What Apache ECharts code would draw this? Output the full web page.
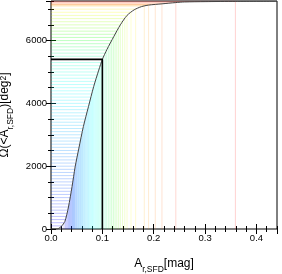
<!DOCTYPE html>
<html>
<head>
<meta charset="utf-8">
<script src="https://cdn.jsdelivr.net/npm/echarts@6/dist/echarts.min.js"></script>
<style>html,body{margin:0;padding:0;background:#fff;overflow:hidden}#c{width:282px;height:274px}</style>
</head>
<body>
<div id="c"></div>
<script>
// cumulative area curve
const curveX = [0, 0.010, 0.015, 0.020, 0.027, 0.034, 0.041, 0.047, 0.054, 0.063, 0.073, 0.083, 0.093, 0.100, 0.109, 0.122, 0.135, 0.148, 0.162, 0.176, 0.190, 0.216, 0.243, 0.260, 0.300, 0.359, 0.440];
const curveY = [0, 0, 20, 80, 240, 700, 1350, 1980, 2550, 3260, 3900, 4530, 5060, 5400, 5720, 6120, 6500, 6800, 6980, 7080, 7130, 7170, 7210, 7230, 7240, 7248, 7252];
// quantile levels (area) and the extinction where each is reached
const levelY = [100,200,300,400,500,600,700,800,900,1000,1100,1200,1300,1400,1500,1600,1700,1800,1900,2000,2100,2200,2300,2400,2500,2600,2700,2800,2900,3000,3100,3200,3300,3400,3500,3600,3700,3800,3900,4000,4100,4200,4300,4400,4500,4600,4700,4800,4900,5000,5100,5200,5300,5400,5500,5600,5700,5800,5900,6000,6100,6200,6300,6400,6500,6600,6700,6800,6900,7000,7100,7130,7150,7170,7210,7248];
const levelX = [0.0209,0.0253,0.0279,0.0294,0.0310,0.0325,0.0340,0.0351,0.0362,0.0372,0.0383,0.0394,0.0405,0.0415,0.0424,0.0434,0.0443,0.0453,0.0462,0.0472,0.0485,0.0497,0.0509,0.0522,0.0534,0.0546,0.0559,0.0572,0.0584,0.0597,0.0610,0.0622,0.0636,0.0652,0.0668,0.0683,0.0699,0.0714,0.0730,0.0746,0.0762,0.0778,0.0793,0.0809,0.0825,0.0843,0.0862,0.0881,0.0900,0.0919,0.0938,0.0959,0.0979,0.1000,0.1028,0.1056,0.1084,0.1116,0.1149,0.1181,0.1214,0.1247,0.1282,0.1316,0.1350,0.1393,0.1437,0.1480,0.1558,0.1648,0.1816,0.190,0.203,0.216,0.243,0.359];
// highlighted cut
const cutX = [0, 0.1, 0.1];
const cutY = [5400, 5400, 0];
const xTickLabels = ['0.0','0.1','0.2','0.3','0.4'];
const yTickLabels = ['0','2000','4000','6000'];

const hueStops = [[0,265],[0.03,235],[0.055,205],[0.075,185],[0.1,165],[0.115,130],[0.135,90],[0.15,65],[0.17,50],[0.19,35],[0.25,5],[0.5,0]];
function hueAt(x){
  for(let i=1;i<hueStops.length;i++){
    if(x<=hueStops[i][0]){const a=hueStops[i-1],b=hueStops[i];const t=(x-a[0])/(b[0]-a[0]);return a[1]+t*(b[1]-a[1]);}
  }
  return 0;
}
const FONT='Liberation Sans';
const chart = echarts.init(document.getElementById('c'), null, {renderer:'canvas', width:282, height:274});
const XMAX=0.44, YMAX=7260;
function xAx(pos, interval, len, labels){
  return {type:'value', min:0, max:XMAX, interval:interval, position:pos,
    axisLine:{show:false}, splitLine:{show:false},
    axisTick:{show:true, inside:true, length:len, lineStyle:{color:'#000', width:1}},
    axisLabel:{show:labels, color:'#000', fontFamily:FONT, fontSize:9.5, margin:4, showMaxLabel:false,
      formatter:function(v){const i=Math.round(v/0.1);return Math.abs(v-i*0.1)<1e-6 ? (xTickLabels[i]||'') : '';}}};
}
function yAx(pos, interval, len, labels){
  return {type:'value', min:0, max:YMAX, interval:interval, position:pos,
    axisLine:{show:false}, splitLine:{show:false},
    axisTick:{show:true, inside:true, length:len, lineStyle:{color:'#000', width:1}},
    axisLabel:{show:labels, color:'#000', fontFamily:FONT, fontSize:9.5, margin:4, showMaxLabel:false,
      formatter:function(v){const i=Math.round(v/2000);return Math.abs(v-i*2000)<1e-6 ? (yTickLabels[i]||'') : '';}}};
}
const rich = {
  m:{fontFamily:FONT,fontSize:12,color:'#000',lineHeight:14,verticalAlign:'top'},
  s:{fontFamily:FONT,fontSize:8.5,color:'#000',lineHeight:16,verticalAlign:'bottom'},
  p:{fontFamily:FONT,fontSize:8.5,color:'#000',lineHeight:10,verticalAlign:'top'}};
const xMain = xAx('bottom',0.1,5,true);
xMain.name='{m|A}{s|r,SFD}{m|[mag]}';
xMain.nameLocation='middle'; xMain.nameGap=29;
xMain.nameTextStyle={rich:rich};
const yMain = yAx('left',2000,5,true);
yMain.name='{m|Ω(<A}{s|r,SFD}{m|)[deg}{p|2}{m|]}';
yMain.nameLocation='middle'; yMain.nameGap=27; yMain.nameRotate=90;
yMain.nameTextStyle={rich:rich};

const qData = levelX.map((x,i)=>[x, levelY[i]]);
chart.setOption({
  animation:false,
  backgroundColor:'#fff',
  grid:{left:51, right:5, top:1, bottom:45, containLabel:false, outerBoundsMode:'none',
        show:true, borderColor:'#000', borderWidth:1, backgroundColor:'transparent'},
  xAxis:[xMain, xAx('bottom',0.02,3,false), xAx('top',0.1,5,false), xAx('top',0.02,3,false)],
  yAxis:[yMain, yAx('left',500,3,false), yAx('right',2000,5,false), yAx('right',500,3,false)],
  series:[
    {type:'custom', xAxisIndex:0, yAxisIndex:0, data:qData, silent:true,
     renderItem:function(params, api){
       const x=api.value(0), y=api.value(1);
       const p=api.coord([x,y]), p0=api.coord([0,y]), pb=api.coord([x,0]);
       const h=hueAt(x).toFixed(0);
       return {type:'group', children:[
         {type:'line', shape:{x1:p0[0],y1:p[1],x2:p[0],y2:p[1]}, style:{stroke:'hsla('+h+',100%,50%,0.25)', lineWidth:1}},
         {type:'line', shape:{x1:p[0],y1:pb[1],x2:p[0],y2:p[1]}, style:{stroke:'hsla('+h+',100%,50%,0.18)', lineWidth:1}}
       ]};
     }},
    {type:'line', xAxisIndex:0, yAxisIndex:0, data:curveX.map((x,i)=>[x,curveY[i]]), showSymbol:false, smooth:0.25,
     lineStyle:{color:'#444', width:1}},
    {type:'line', xAxisIndex:0, yAxisIndex:0, data:cutX.map((x,i)=>[x,cutY[i]]), showSymbol:false,
     lineStyle:{color:'#000', width:1.6}}
  ]
});
</script>
</body>
</html>
